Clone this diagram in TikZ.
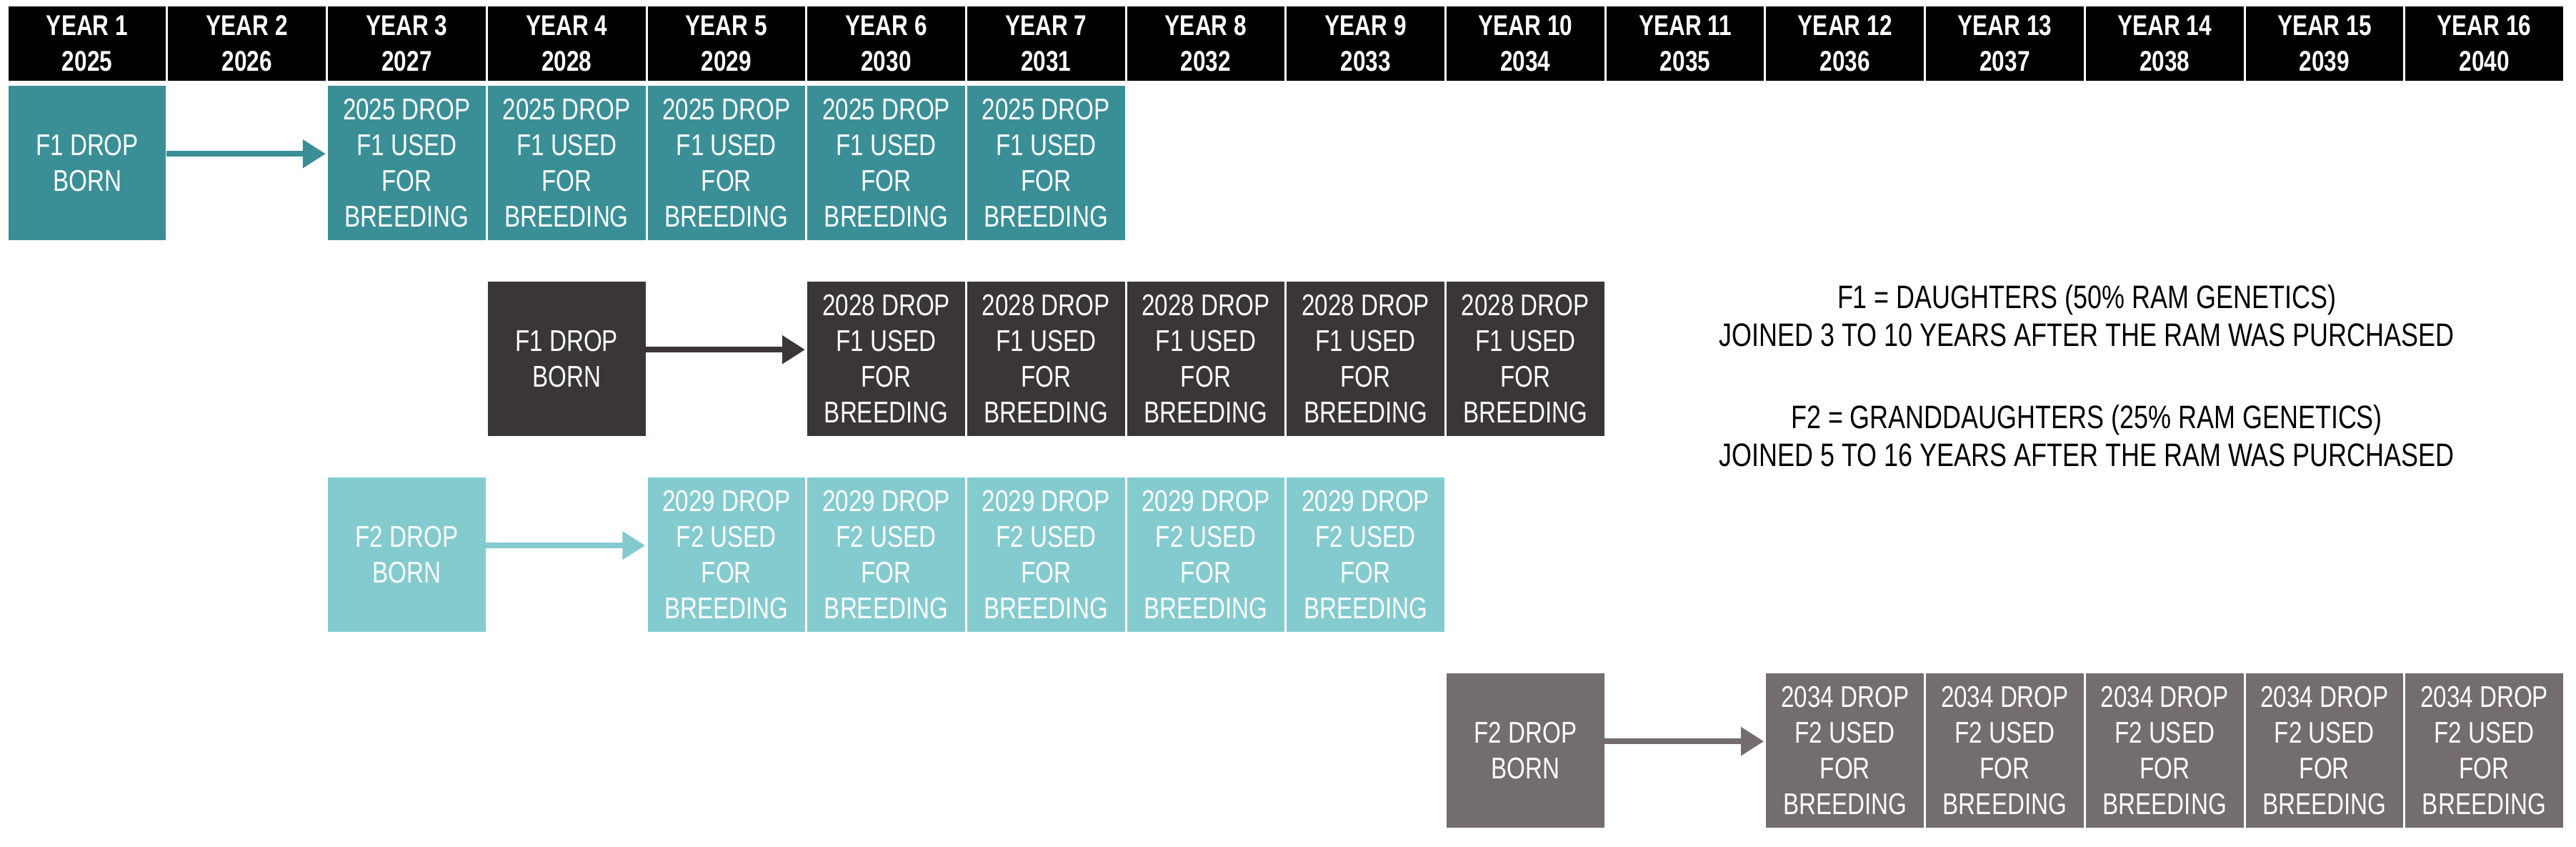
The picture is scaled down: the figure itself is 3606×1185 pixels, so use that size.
\documentclass[tikz,border=0pt]{standalone}
\usepackage{fontspec}
\setmainfont{Liberation Sans}[FakeStretch=0.79]
\usetikzlibrary{arrows.meta}
\definecolor{tealA}{HTML}{3A8F97}
\definecolor{darkB}{HTML}{3A3636}
\definecolor{lightC}{HTML}{84CBD0}
\definecolor{grayD}{HTML}{736D6D}
\tikzset{
  cell/.style={anchor=north west, inner sep=0pt, minimum width=220.7pt, text=white, align=center},
  hdr/.style={cell, fill=black, minimum height=104pt, font=\bfseries\fontsize{40}{50}\selectfont},
  blk/.style={cell, minimum height=216pt, font=\fontsize{42}{50}\selectfont},
  arr/.style={line width=8pt, -{Triangle[length=32pt,width=38pt]}, shorten >=3pt}
}
\begin{document}
\begin{tikzpicture}[x=1pt,y=-1pt]
\useasboundingbox[fill=white] (0,0) rectangle (3606,1185);
% header
\foreach \i/\yr in {1/2025,2/2026,3/2027,4/2028,5/2029,6/2030,7/2031,8/2032,9/2033,10/2034,11/2035,12/2036,13/2037,14/2038,15/2039,16/2040}{
  \node[hdr] (h\i) at ({11.5+223.7*(\i-1)},9) {YEAR \i\\\yr};
}
% row 1
\node[blk, fill=tealA] (b1) at ({11.5+223.7*0},120) {F1 DROP\\BORN};
\foreach \i in {3,...,7}{
  \node[blk, fill=tealA] (r1c\i) at ({11.5+223.7*(\i-1)},120) {2025 DROP\\F1 USED\\FOR\\BREEDING};
}
% row 2
\node[blk, fill=darkB] (b2) at ({11.5+223.7*3},394) {F1 DROP\\BORN};
\foreach \i in {6,...,10}{
  \node[blk, fill=darkB] (r2c\i) at ({11.5+223.7*(\i-1)},394) {2028 DROP\\F1 USED\\FOR\\BREEDING};
}
% row 3
\node[blk, fill=lightC] (b3) at ({11.5+223.7*2},668) {F2 DROP\\BORN};
\foreach \i in {5,...,9}{
  \node[blk, fill=lightC] (r3c\i) at ({11.5+223.7*(\i-1)},668) {2029 DROP\\F2 USED\\FOR\\BREEDING};
}
% row 4
\node[blk, fill=grayD] (b4) at ({11.5+223.7*9},942) {F2 DROP\\BORN};
\foreach \i in {12,...,16}{
  \node[blk, fill=grayD] (r4c\i) at ({11.5+223.7*(\i-1)},942) {2034 DROP\\F2 USED\\FOR\\BREEDING};
}
% arrows
\draw[arr, tealA] ([yshift=13pt]b1.east) -- ([yshift=13pt]r1c3.west);
\draw[arr, darkB] ([yshift=13pt]b2.east) -- ([yshift=13pt]r2c6.west);
\draw[arr, lightC] ([yshift=13pt]b3.east) -- ([yshift=13pt]r3c5.west);
\draw[arr, grayD] ([yshift=13pt]b4.east) -- ([yshift=13pt]r4c12.west);
% legend
\node[align=center, font=\fontsize{45.5}{53}\selectfont] (leg1) at (2921,442) {F1 = DAUGHTERS (50\% RAM GENETICS)\\JOINED 3 TO 10 YEARS AFTER THE RAM WAS PURCHASED};
\node[align=center, font=\fontsize{45.5}{53}\selectfont] (leg2) at (2921,610) {F2 = GRANDDAUGHTERS (25\% RAM GENETICS)\\JOINED 5 TO 16 YEARS AFTER THE RAM WAS PURCHASED};
\end{tikzpicture}
\end{document}
